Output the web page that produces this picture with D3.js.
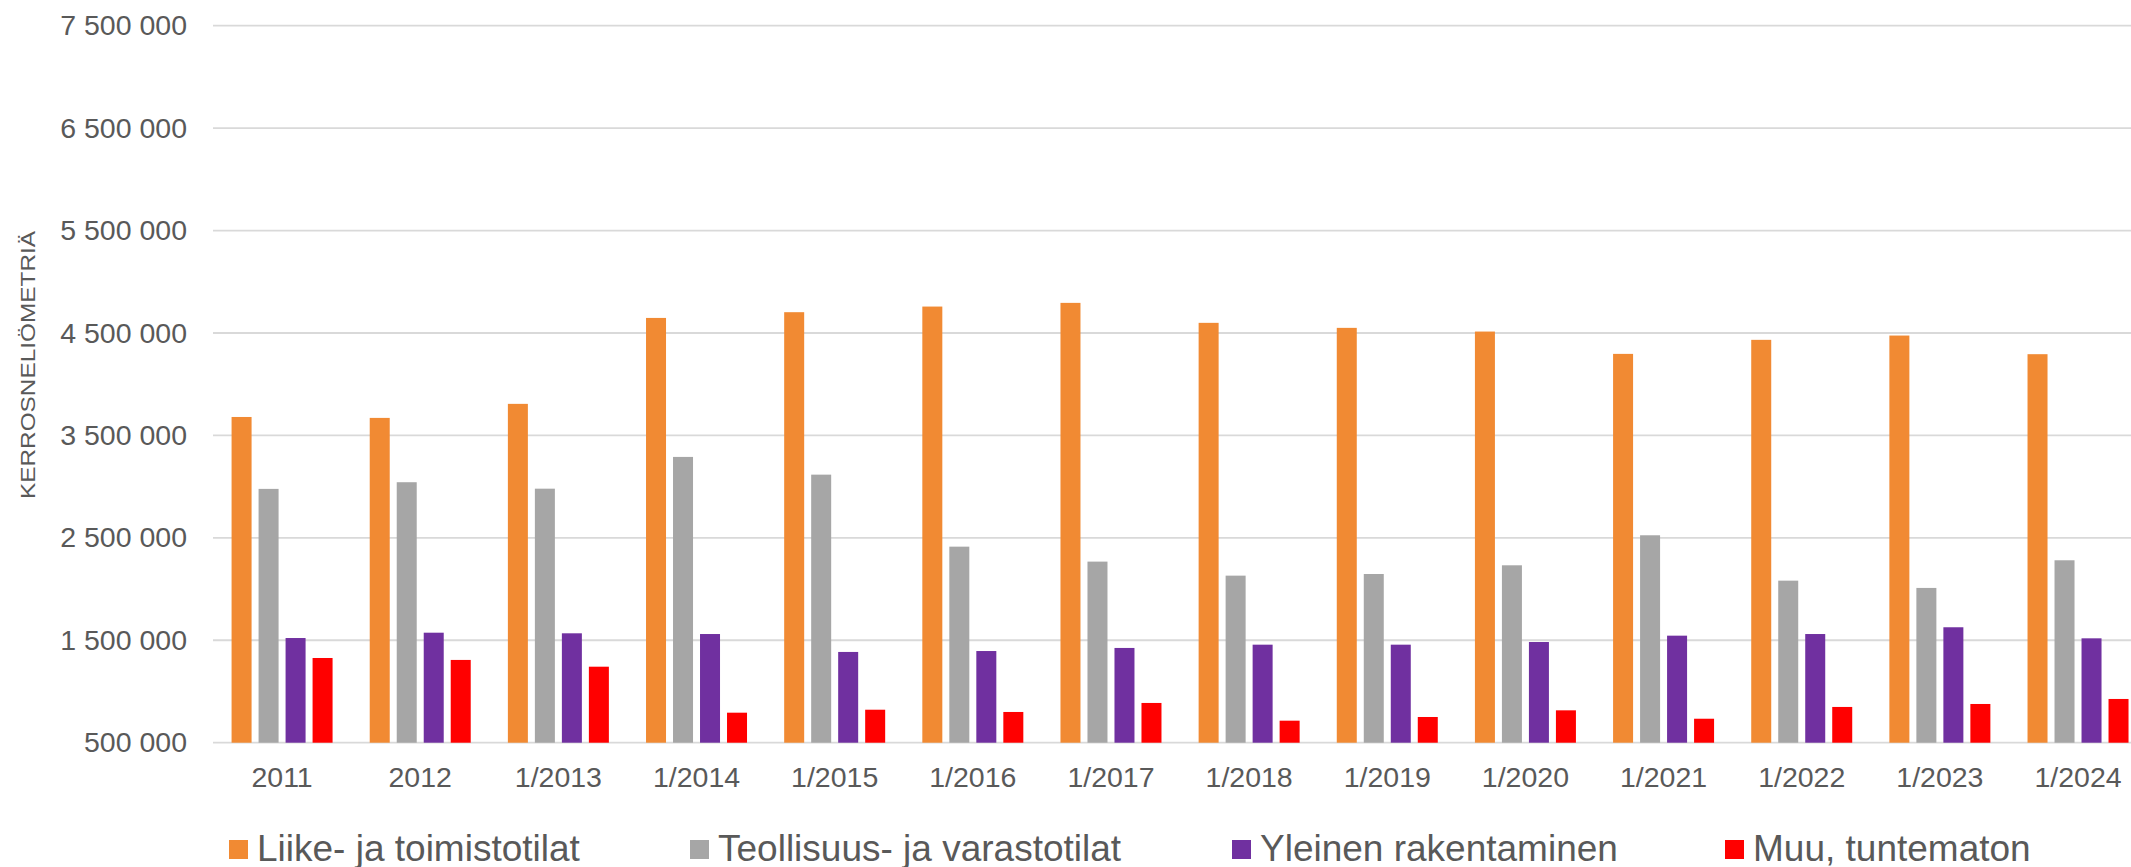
<!DOCTYPE html>
<html>
<head>
<meta charset="utf-8">
<script src="https://cdn.jsdelivr.net/npm/d3@7"></script>
<style>
body { margin: 0; background: #fff; }
svg { display: block; font-family: "Liberation Sans", Arial, sans-serif; }
</style>
</head>
<body>
<script>
var categories = ["2011", "2012", "1/2013", "1/2014", "1/2015", "1/2016", "1/2017",
    "1/2018", "1/2019", "1/2020", "1/2021", "1/2022", "1/2023", "1/2024"];

var seriesNames = ["Liike- ja toimistotilat", "Teollisuus- ja varastotilat",
    "Yleinen rakentaminen", "Muu, tuntematon"];

var liike = [3680000, 3671000, 3808000, 4647000, 4703000, 4758000, 4794000,
    4599000, 4550000, 4514000, 4296000, 4433000, 4475000, 4293000];
var teollisuus = [2978000, 3043000, 2980000, 3290000, 3117000, 2414000, 2268000,
    2131000, 2147000, 2232000, 2525000, 2082000, 2011000, 2281000];
var yleinen = [1522000, 1574000, 1568000, 1561000, 1386000, 1395000, 1425000,
    1457000, 1457000, 1483000, 1545000, 1561000, 1627000, 1519000];
var muu = [1327000, 1308000, 1242000, 793000, 822000, 800000, 888000,
    715000, 751000, 816000, 734000, 849000, 878000, 927000];

var yTicks = [500000, 1500000, 2500000, 3500000, 4500000, 5500000, 6500000, 7500000];

var colors = ["#F18A33", "#A6A6A6", "#7030A0", "#FF0000"];

var width = 2131, height = 867;

var series = [liike, teollisuus, yleinen, muu];

var x0 = d3.scaleBand()
    .domain(categories)
    .range([213, 213 + 14 * 138.15]);

var x1 = d3.scaleBand()
    .domain(d3.range(4))
    .range([0, 101])
    .paddingInner(7 / 27);

var y = d3.scaleLinear()
    .domain([500000, 7500000])
    .range([742.7, 25.7]);

var fmt = function(d) { return d3.format(",")(d).replace(/,/g, " "); };

var svg = d3.select("body").append("svg")
    .attr("width", width)
    .attr("height", height);

// gridlines
svg.append("g")
    .selectAll("line")
    .data(yTicks)
    .enter().append("line")
    .attr("x1", 213)
    .attr("x2", width)
    .attr("y1", function(d) { return y(d); })
    .attr("y2", function(d) { return y(d); })
    .attr("stroke", "#d9d9d9")
    .attr("stroke-width", 1.8);

// y axis
var yAxis = d3.axisLeft(y)
    .tickValues(yTicks)
    .tickFormat(fmt)
    .tickSize(0)
    .tickPadding(0);

svg.append("g")
    .attr("class", "y axis")
    .attr("transform", "translate(187,0)")
    .call(yAxis)
    .call(function(g) { g.select(".domain").remove(); })
    .selectAll("text")
    .attr("fill", "#595959")
    .attr("font-size", "28.5px")
    .attr("font-family", "Liberation Sans, Arial, sans-serif");

svg.append("text")
    .attr("transform", "translate(35,365) rotate(-90)")
    .attr("text-anchor", "middle")
    .attr("fill", "#595959")
    .attr("font-size", "19.5px")
    .attr("textLength", 268)
    .attr("lengthAdjust", "spacingAndGlyphs")
    .text("KERROSNELIÖMETRIÄ");

// bars
var groups = svg.append("g")
    .selectAll("g")
    .data(categories)
    .enter().append("g")
    .attr("transform", function(d) { return "translate(" + (x0(d) + (x0.bandwidth() - 101) / 2) + ",0)"; });

groups.selectAll("rect")
    .data(function(d, i) { return series.map(function(s, k) { return {k: k, v: s[i]}; }); })
    .enter().append("rect")
    .attr("x", function(d) { return x1(d.k); })
    .attr("width", x1.bandwidth())
    .attr("y", function(d) { return y(d.v); })
    .attr("height", function(d) { return y(500000) - y(d.v); })
    .attr("fill", function(d) { return colors[d.k]; });

// x axis
var xAxis = d3.axisBottom(x0)
    .tickSize(0)
    .tickPadding(0);

svg.append("g")
    .attr("class", "x axis")
    .attr("transform", "translate(0,767)")
    .call(xAxis)
    .call(function(g) { g.select(".domain").remove(); })
    .selectAll("text")
    .attr("dy", "0.71em")
    .attr("fill", "#595959")
    .attr("font-size", "28.5px")
    .attr("font-family", "Liberation Sans, Arial, sans-serif");

// legend
var legendX = [229, 690, 1232, 1725];

var legend = svg.append("g")
    .selectAll("g")
    .data(seriesNames)
    .enter().append("g")
    .attr("transform", function(d, i) { return "translate(" + legendX[i] + ",840)"; });

legend.append("rect")
    .attr("width", 19)
    .attr("height", 19)
    .attr("fill", function(d, i) { return colors[i]; });

legend.append("text")
    .attr("x", 28)
    .attr("y", 21)
    .attr("fill", "#595959")
    .attr("font-size", "37px")
    .text(function(d) { return d; });
</script>
</body>
</html>
